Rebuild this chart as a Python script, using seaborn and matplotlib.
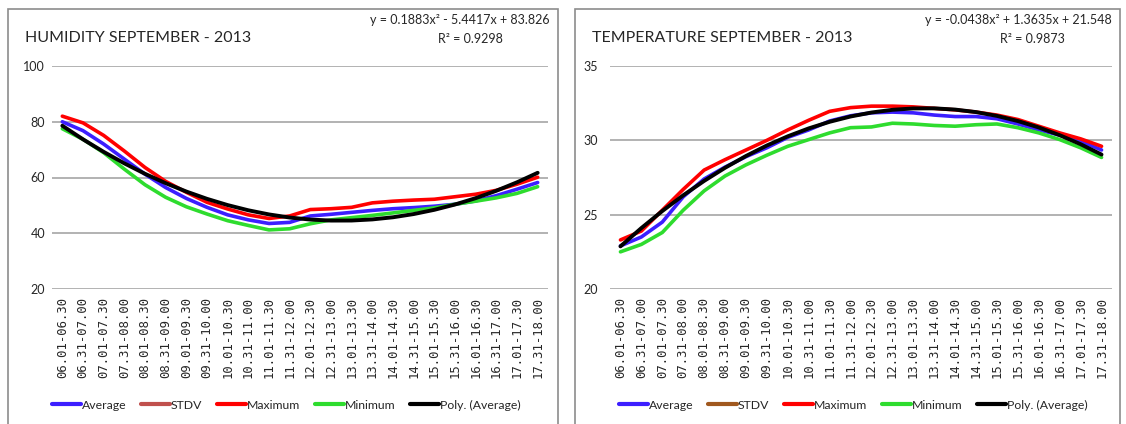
import numpy as np
import pandas as pd
import seaborn as sns
import matplotlib.pyplot as plt
from matplotlib.lines import Line2D
from matplotlib.patches import Rectangle

# time slots (x axis)
slots = ["06.01-06.30", "06.31-07.00", "07.01-07.30", "07.31-08.00", "08.01-08.30", "08.31-09.00",
         "09.01-09.30", "09.31-10.00", "10.01-10.30", "10.31-11.00", "11.01-11.30", "11.31-12.00",
         "12.01-12.30", "12.31-13.00", "13.01-13.30", "13.31-14.00", "14.01-14.30", "14.31-15.00",
         "15.01-15.30", "15.31-16.00", "16.01-16.30", "16.31-17.00", "17.01-17.30", "17.31-18.00"]

# humidity september 2013
hum_avg = [80.0, 76.8, 72.0, 66.6, 61.2, 56.4, 52.5, 49.3, 46.6, 44.8, 43.5, 43.9,
           46.2, 46.8, 47.5, 48.2, 48.8, 49.2, 49.7, 50.4, 51.6, 53.5, 55.8, 58.2]
hum_max = [82.0, 79.6, 75.1, 69.5, 63.6, 58.6, 54.7, 51.1, 48.7, 46.6, 45.3, 46.2,
           48.5, 48.8, 49.3, 50.9, 51.5, 51.9, 52.2, 53.1, 54.0, 55.4, 57.6, 60.1]
hum_min = [77.5, 73.7, 68.9, 63.0, 57.4, 52.9, 49.5, 46.9, 44.5, 42.8, 41.2, 41.6,
           43.4, 44.8, 45.6, 46.4, 47.3, 48.2, 49.1, 50.4, 51.5, 52.7, 54.3, 56.7]
hum_poly = [0.1883, -5.4417, 83.826]
hum_r2 = 0.9298

# temperature september 2013
tmp_avg = [22.9, 23.5, 24.5, 26.2, 27.4, 28.2, 28.9, 29.5, 30.2, 30.7, 31.3, 31.65,
           31.85, 31.9, 31.85, 31.7, 31.6, 31.6, 31.45, 31.1, 30.7, 30.35, 29.95, 29.35]
tmp_max = [23.3, 23.9, 25.3, 26.7, 28.0, 28.7, 29.35, 30.0, 30.7, 31.35, 31.95, 32.2,
           32.3, 32.3, 32.25, 32.15, 32.05, 31.9, 31.7, 31.4, 30.95, 30.5, 30.1, 29.6]
tmp_min = [22.5, 23.0, 23.8, 25.3, 26.6, 27.6, 28.35, 29.0, 29.6, 30.05, 30.5, 30.85,
           30.9, 31.15, 31.1, 31.0, 30.95, 31.05, 31.1, 30.85, 30.5, 30.05, 29.5, 28.85]
tmp_poly = [-0.0438, 1.3635, 21.548]
tmp_r2 = 0.9873

sns.set_theme(style="white")
plt.rcParams['font.family'] = ['Lato', 'DejaVu Sans']

W, H = 1126, 424
fig = plt.figure(figsize=(W / 100, H / 100), dpi=100)

BLUE, RED, GREEN = "#3C1EFF", "#FF0000", "#2EDC2E"


def px_axes(x0, x1, y_top, y_bot):
    return fig.add_axes([x0 / W, 1 - y_bot / H, (x1 - x0) / W, (y_bot - y_top) / H])


def draw_chart(ax, title, avg, mx, mn, poly, r2, ylim, yticks, stdv_color, eq, frame_x, ypad):
    x = np.arange(len(slots))
    df = pd.DataFrame({"slot": x, "Average": avg, "Maximum": mx, "Minimum": mn})
    df["Poly. (Average)"] = np.polyval(poly, x + 1)

    sns.lineplot(data=df, x="slot", y="Average", color=BLUE, lw=2.6, ax=ax)
    sns.lineplot(data=df, x="slot", y="Maximum", color=RED, lw=2.6, ax=ax)
    sns.lineplot(data=df, x="slot", y="Minimum", color=GREEN, lw=2.6, ax=ax)
    sns.lineplot(data=df, x="slot", y="Poly. (Average)", color="black", lw=2.8, ax=ax)

    ax.set_xlim(-0.5, len(slots) - 0.5)
    ax.set_ylim(*ylim)
    ax.set_yticks(yticks)
    ax.set_xticks(x)
    ax.set_xticklabels(slots, rotation=90, fontsize=8.8, family=['DejaVu Sans Mono', 'DejaVu Sans'])
    ax.tick_params(axis='y', labelsize=9, pad=ypad, length=0)
    ax.tick_params(axis='x', length=0, pad=6)
    ax.set_xlabel("")
    ax.set_ylabel("")
    ax.grid(axis='y', color="#A6A6A6", lw=1.2)
    for s in ax.spines.values():
        s.set_visible(False)

    # chart frame
    fig.patches.append(Rectangle((frame_x[0] / W, -0.05), (frame_x[1] - frame_x[0]) / W, 1.05 - 9 / H,
                                 transform=fig.transFigure, fill=False, edgecolor="#8C8C8C", lw=1.2))
    fig.text((frame_x[0] + 17) / W, 1 - 38 / H, title, fontsize=11.5, va="center", ha="left")
    fig.text((frame_x[1] - 8) / W, 1 - 20 / H, eq, fontsize=9, va="center", ha="right")
    fig.text((frame_x[1] - 88) / W, 1 - 39 / H, "R² = %.4f" % r2, fontsize=9, va="center", ha="center")

    handles = [Line2D([], [], color=BLUE, lw=3), Line2D([], [], color=stdv_color, lw=3),
               Line2D([], [], color=RED, lw=3), Line2D([], [], color=GREEN, lw=3),
               Line2D([], [], color="black", lw=3)]
    labels = ["Average", "STDV", "Maximum", "Minimum", "Poly. (Average)"]
    ax.legend(handles, labels, ncol=5, frameon=False, fontsize=8.8,
              loc="center", bbox_to_anchor=((frame_x[0] + 278) / W, 1 - 405 / H),
              bbox_transform=fig.transFigure, handlelength=2.4, handletextpad=0.05,
              columnspacing=1.2)


ax1 = px_axes(52, 548, 66, 289)
draw_chart(ax1, "HUMIDITY SEPTEMBER - 2013", hum_avg, hum_max, hum_min, hum_poly, hum_r2,
           (20, 100), [20, 40, 60, 80, 100], "#C0504D", "y = 0.1883x² - 5.4417x + 83.826", (8, 558), 5)

ax2 = px_axes(610, 1112, 66, 289)
draw_chart(ax2, "TEMPERATURE SEPTEMBER - 2013", tmp_avg, tmp_max, tmp_min, tmp_poly, tmp_r2,
           (20, 35), [20, 25, 30, 35], "#A0581E", "y = -0.0438x² + 1.3635x + 21.548", (575, 1120), 9)

fig.savefig("out.png", dpi=100, facecolor="white")
